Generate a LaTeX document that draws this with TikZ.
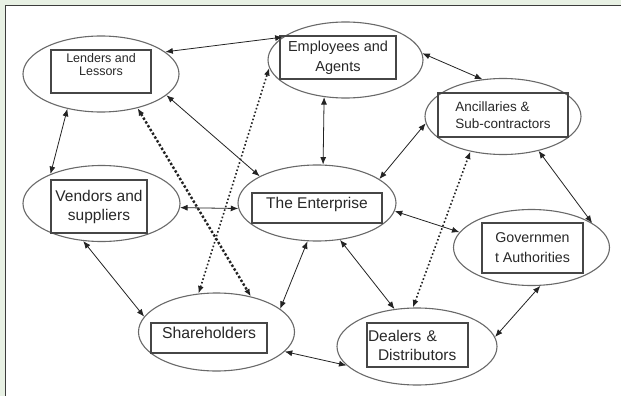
\documentclass[tikz,border=0pt]{standalone}
\usepackage{fontspec}
\setmainfont{Liberation Sans}
\usetikzlibrary{shapes.geometric,arrows.meta}
\definecolor{panelgreen}{RGB}{232,241,228}
\definecolor{framegray}{RGB}{60,60,60}
\definecolor{ovalgray}{RGB}{105,105,105}
\definecolor{boxgray}{RGB}{70,70,70}
\definecolor{txtgray}{RGB}{40,40,40}
\definecolor{linkgray}{RGB}{35,35,35}

\begin{document}
\begin{tikzpicture}[x=1pt,y=-1pt,>={Latex[length=7.5pt,width=6pt]},
  oval/.style={ellipse,draw=ovalgray,line width=1.1pt,minimum width=156pt,minimum height=76pt,inner sep=0pt},
  tag/.style={rectangle,draw=boxgray,line width=1.2pt,inner sep=0pt,text=txtgray,align=center},
  link/.style={<->,draw=linkgray,line width=0.8pt},
  dots/.style={link,line width=1.6pt,dash pattern=on 1.6pt off 2.2pt},
  bigdots/.style={link,line width=2.4pt,dash pattern=on 2.4pt off 2pt}]
\useasboundingbox (0,0) rectangle (621,396);
\fill[panelgreen] (0,0) rectangle (621,396);
\fill[white] (5.5,5.5) rectangle (621,396);
\draw[line width=1.3pt,draw=framegray] (621,5.5) -- (5.5,5.5) -- (5.5,396);

% the ovals
\node[oval] (lendE) at (101,74) {};
\node[oval,minimum width=155pt] (empE) at (345.5,60) {};
\node[oval] (ancE) at (503,116.5) {};
\node[oval,minimum width=157pt] (vendE) at (101.5,203.5) {};
\node[oval,minimum width=158pt] (entE) at (317,203) {};
\node[oval] (govE) at (531.5,247.5) {};
\node[oval,minimum width=160pt,minimum height=77pt] (dealE) at (417,346.5) {};
\node[oval,minimum height=78pt] (shareE) at (216.5,332) {};

% the boxes
\node[tag,minimum width=100pt,minimum height=43pt,text depth=14pt,font=\fontsize{12.5}{13.5}\selectfont] (lend) at (101,71.5) {Lenders and\\Lessors};
\node[tag,minimum width=116pt,minimum height=43pt,font=\fontsize{14.5}{20}\selectfont] (emp) at (338,57.5) {Employees and\\Agents};
\node[tag,minimum width=130pt,minimum height=44pt,align=left,font=\fontsize{13.5}{16.5}\selectfont] (anc) at (503,115) {Ancillaries \&\\Sub-contractors};
\node[tag,minimum width=96pt,minimum height=53pt,font=\fontsize{15.5}{19}\selectfont] (vend) at (99,206.5) {Vendors and\\suppliers};
\node[tag,minimum width=130pt,minimum height=30pt,text height=5pt,text depth=5pt,font=\fontsize{15.5}{19}\selectfont] (ent) at (317,208) {The Enterprise};
\node[tag,minimum width=101pt,minimum height=50pt,font=\fontsize{14.2}{20}\selectfont] (gov) at (532.5,248) {Governmen\\t Authorities};
\node[tag,minimum width=101pt,minimum height=44pt,text width=99pt,align=left,font=\fontsize{15.5}{19}\selectfont] (deal) at (417.5,345) {Dealers \&\\\hspace*{10pt}Distributors};
\node[tag,minimum width=116pt,minimum height=30pt,text height=5pt,text depth=5pt,font=\fontsize{15.8}{19}\selectfont] (share) at (209,338) {Shareholders};

% the links
\draw[link] (lendE.19) -- (empE.160);
\draw[link] (empE.5) -- (ancE.119);
\draw[link] (empE.240) -- (entE.81);
\draw[link] (ancE.185) -- (entE.21);
\draw[link] (ancE.316) -- (govE.22);
\draw[link] (lendE.342) -- (entE.155);
\draw[link] (lendE.226) -- (vendE.150);
\draw[link] (vendE.357) -- (entE.184);
\draw[link] (vendE.244) -- (shareE.168);
\draw[link] (entE.256) -- (shareE.20);
\draw[link] (shareE.344) -- (dealE.195);
\draw[link] (entE.354) -- (govE.168);
\draw[link] (entE.302) -- (dealE.121);
\draw[link] (govE.283) -- (dealE.7);
\draw[dots] (shareE.115) -- (empE.186);
\draw[bigdots] (lendE.317) -- (shareE.46);
\draw[dots] (dealE.96) -- (ancE.227);
\end{tikzpicture}
\end{document}
